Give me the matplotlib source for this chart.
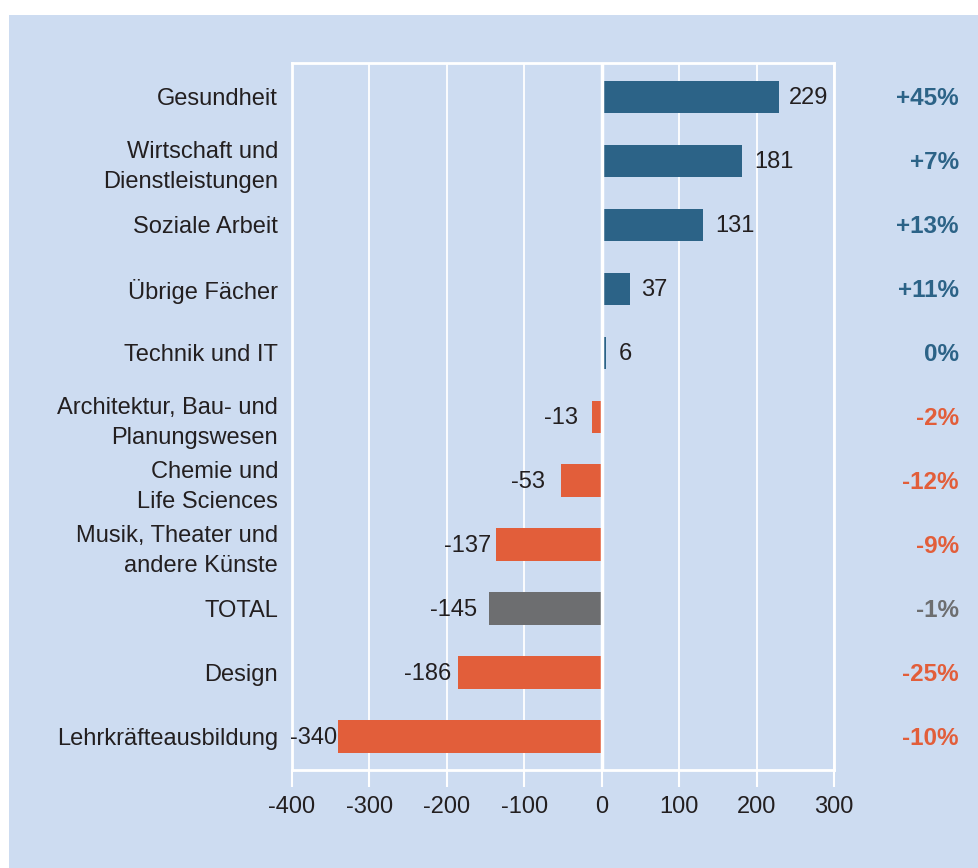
import matplotlib
matplotlib.use("Agg")
import matplotlib.pyplot as plt
from matplotlib.patches import Rectangle

plt.rcParams['font.family'] = ['Liberation Sans', 'DejaVu Sans']

# daten
kategorien = ['Gesundheit', 'Wirtschaft und\nDienstleistungen', 'Soziale Arbeit',
              'Übrige Fächer', 'Technik und IT', 'Architektur, Bau- und\nPlanungswesen',
              'Chemie und\nLife Sciences', 'Musik, Theater und\nandere Künste', 'TOTAL',
              'Design', 'Lehrkräfteausbildung']
werte = [229, 181, 131, 37, 6, -13, -53, -137, -145, -186, -340]
prozent = ['+45%', '+7%', '+13%', '+11%', '0%', '-2%', '-12%', '-9%', '-1%', '-25%', '-10%']

blau = '#2c6387'
orange = '#e25e3a'
grau = '#6d6e70'
hinter = '#cddcf1'
textfarbe = '#231f20'

farben = []
for k, w in zip(kategorien, werte):
    if k == 'TOTAL':
        farben.append(grau)
    elif w >= 0:
        farben.append(blau)
    else:
        farben.append(orange)

# abstand der wertbeschriftung in punkten
abstand = [7, 9, 9, 8, 9, 10, 11, 3, 9, 5, 1]

fs = 17

fig = plt.figure(figsize=(9.79, 8.68), dpi=100)
fig.patches.append(Rectangle((9/979, 0), 1, 1 - 15/868, transform=fig.transFigure,
                             facecolor=hinter, edgecolor='none', zorder=-10))

ax = fig.add_axes([292/979, 98/868, 542/979, 707/868])
ax.set_facecolor(hinter)

y = list(range(len(werte)))
ax.barh(y, werte, height=0.51, color=farben, zorder=3)

ax.set_xlim(-400, 300)
ax.set_ylim(10.52, -0.53)
ax.set_xticks(range(-400, 301, 100))
ax.set_xticklabels([str(t) for t in range(-400, 301, 100)], fontsize=fs, color=textfarbe)
ax.tick_params(axis='x', length=12, width=1.5, color='white', pad=6.5)
ax.set_yticks(y)
ax.set_yticklabels(kategorien, fontsize=fs, color=textfarbe, linespacing=1.45)
ax.tick_params(axis='y', length=0, pad=10)

ax.grid(axis='x', color='white', linewidth=1.3, zorder=1)
ax.axvline(0, color='white', linewidth=2.5, zorder=4)
for s in ax.spines.values():
    s.set_color('white')
    s.set_linewidth(2)

for i, (w, a) in enumerate(zip(werte, abstand)):
    if w >= 0:
        ax.annotate(str(w), (w, i), xytext=(a, -1), textcoords='offset points',
                    ha='left', va='center', fontsize=fs, color=textfarbe, zorder=5)
    else:
        ax.annotate(str(w), (w, i), xytext=(-a, -1), textcoords='offset points',
                    ha='right', va='center', fontsize=fs, color=textfarbe, zorder=5)

for i, (p, f) in enumerate(zip(prozent, farben)):
    ax.annotate(p, (1, i), xycoords=('axes fraction', 'data'), xytext=(959/979, -1),
                textcoords=('figure fraction', 'offset points'),
                ha='right', va='center', fontsize=17.5, fontweight='bold', color=f)

fig.savefig('out.png', dpi=100, facecolor='white')
